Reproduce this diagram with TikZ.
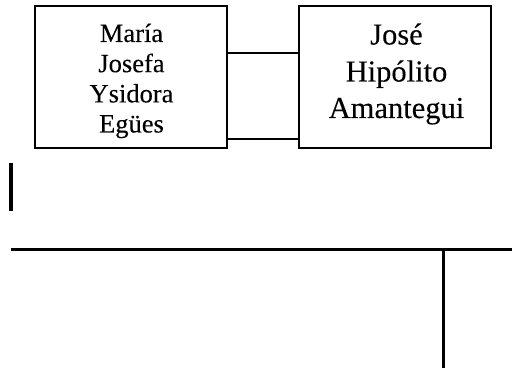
\documentclass[tikz,border=0pt]{standalone}
\usepackage{fontspec}
\setmainfont[FakeBold=0.15]{Liberation Serif}
\begin{document}
\begin{tikzpicture}[x=1pt,y=-1pt,
  box/.style={draw, line width=2pt, minimum width=192pt, minimum height=142.5pt, inner sep=0pt, outer sep=0pt, anchor=north west},
  conn/.style={line width=1.6pt},
  thick line/.style={line width=3.5pt},
  ltext/.style={anchor=base, inner sep=0pt, font=\fontsize{26.5}{30}\selectfont},
  rtext/.style={anchor=base, inner sep=0pt, font=\fontsize{30.5}{35}\selectfont}]
\useasboundingbox (0,0) rectangle (512,374);
\node[box] (m) at (35,6) {};
\node[box] (j) at (299,6) {};
\node[ltext] (m1) at (131.5,42) {María};
\node[ltext] (m2) at (131.5,72.2) {Josefa};
\node[ltext] (m3) at (131.5,102.4) {Ysidora};
\node[ltext] (m4) at (131.5,132.5) {Egües};
\node[rtext] (j1) at (396.5,44.5) {José};
\node[rtext] (j2) at (396.5,81.5) {Hipólito};
\node[rtext] (j3) at (396.5,118) {Amantegui};
\draw[conn] (m.east |- 0,53.3) -- (j.west |- 0,53.3);
\draw[conn] (m.east |- 0,139.3) -- (j.west |- 0,139.3);
\coordinate (s1) at (11,163.3);
\coordinate (s2) at (11,211);
\coordinate (h1) at (11,249.3);
\coordinate (h2) at (512,249.3);
\coordinate (v1) at (443.3,249.3);
\coordinate (v2) at (443.3,368);
\draw[thick line] (s1) -- (s2);
\draw[thick line] (h1) -- (h2);
\draw[thick line] (v1) -- (v2);
\end{tikzpicture}
\end{document}
